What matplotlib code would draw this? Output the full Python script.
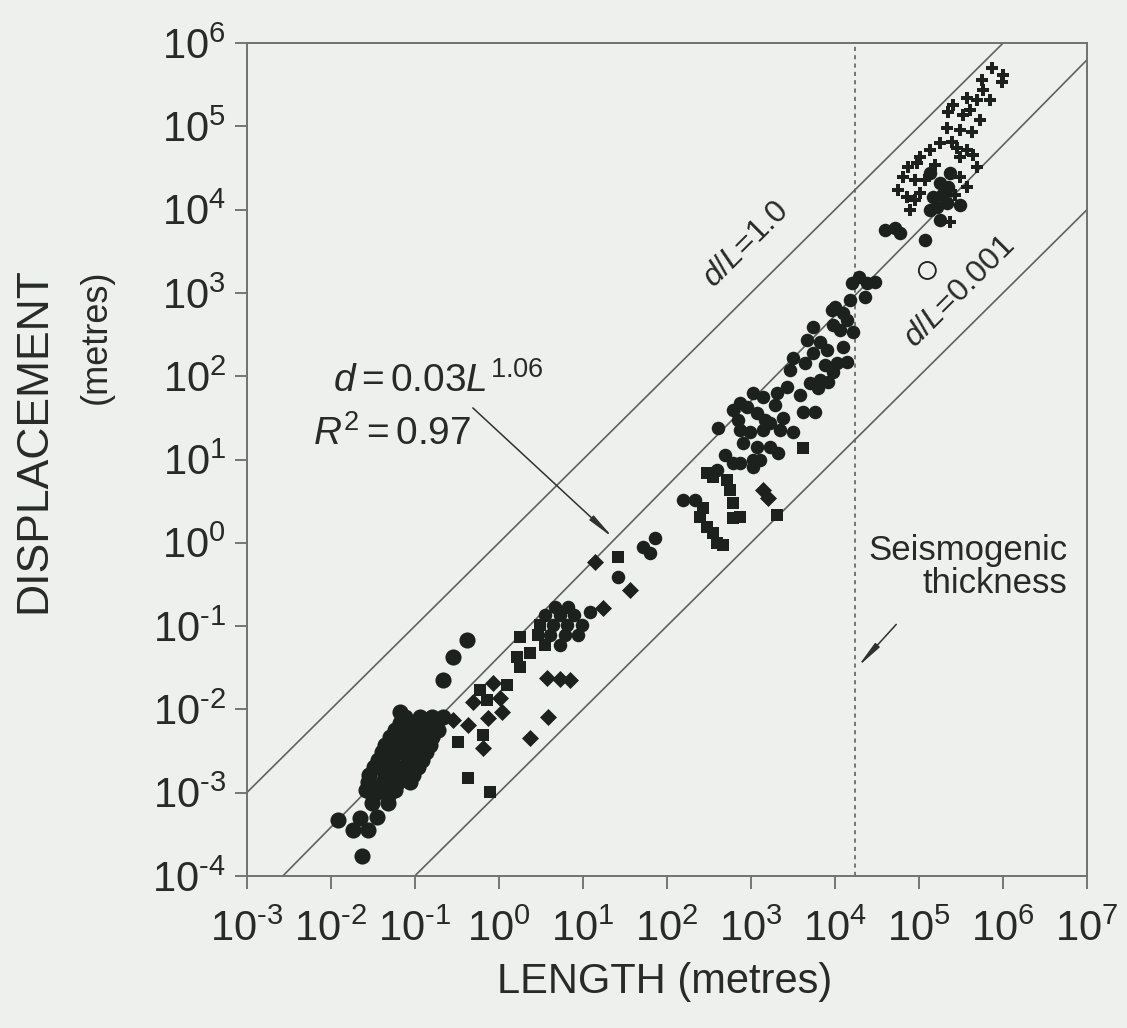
import matplotlib
matplotlib.use("Agg")
import matplotlib.pyplot as plt
import numpy as np

plt.rcParams['font.family'] = ['Liberation Sans', 'DejaVu Sans']
plt.rcParams['mathtext.fontset'] = 'custom'
plt.rcParams['mathtext.rm'] = 'Liberation Sans'
plt.rcParams['mathtext.it'] = 'Liberation Sans:italic'

# values, as log10(length), log10(displacement)
circ_big_logL = [-1.92, -1.74, -1.56, -1.63, -1.65, -1.45,
                 -1.12, -0.94, -0.80, -0.67, -1.24, -1.06, -0.88, -0.73,
                 -1.36, -1.18, -1.00, -0.82, -1.44, -1.27, -1.08, -0.92,
                 -1.54, -1.36, -1.18, -1.02, -1.58, -1.42, -1.24, -1.51, -1.32,
                 -1.18, -1.00, -0.82, -1.30, -1.12, -0.94, -0.79,
                 -1.39, -1.21, -1.04, -0.87, -1.49, -1.31, -1.13, -0.96,
                 -1.56, -1.38, -1.20, -1.06, -1.50, -1.32,
                 -1.18, -0.38, -0.55, -0.67]
circ_big_logd = [-3.33, -3.45, -3.45, -3.76, -3.30, -3.29,
                 -2.09, -2.09, -2.09, -2.09, -2.25, -2.25, -2.25, -2.25,
                 -2.43, -2.43, -2.43, -2.43, -2.61, -2.61, -2.61, -2.61,
                 -2.79, -2.79, -2.79, -2.79, -2.97, -2.97, -2.97, -3.12, -3.12,
                 -2.16, -2.16, -2.16, -2.33, -2.33, -2.33, -2.33,
                 -2.51, -2.51, -2.51, -2.51, -2.69, -2.69, -2.69, -2.69,
                 -2.87, -2.87, -2.87, -2.87, -3.04, -3.04,
                 -2.03, -1.17, -1.37, -1.65]

circ_logL = [0.67, 0.82, 0.55, 0.73, 0.90, 0.64, 0.81, 0.99, 0.61, 0.79, 0.94,
             0.73, 1.08, 1.42, 1.71, 1.86, 1.80,
             2.19, 2.33, 2.87, 3.02, 2.60, 3.11, 2.69,
             2.79, 3.02, 2.90, 3.07, 3.23, 3.32, 2.61, 2.85, 2.87, 2.99, 3.14,
             3.23, 3.38, 3.50, 3.35, 2.87, 2.79, 2.95, 3.07, 3.62, 3.76,
             3.43, 3.31, 3.14, 3.02, 3.82, 3.70, 3.80, 3.92, 3.50, 3.64, 3.74,
             3.46, 3.58, 3.29, 3.17, 3.88, 4.06,
             4.14, 4.02, 3.98, 3.67, 3.82, 3.90, 4.10, 3.96, 4.14, 3.98, 4.21,
             3.74, 4.29, 4.20, 4.48, 4.36, 4.18, 4.38, 4.00, 4.10,
             4.60, 4.71, 4.77, 5.07, 5.13, 5.25, 5.37, 5.35, 5.27, 5.17, 5.21,
             5.33, 5.13, 5.49, 5.25]
circ_logd = [-0.77, -0.77, -0.87, -0.87, -0.87, -0.99, -0.99, -0.99, -1.11, -1.11, -1.11,
             -1.23, -0.83, -0.41, -0.05, 0.06, -0.12,
             0.51, 0.51, 0.96, 0.99, 0.87, 0.99, 1.05,
             0.96, 0.91, 1.20, 1.15, 1.15, 1.08, 1.38, 1.47, 1.35, 1.33, 1.35,
             1.44, 1.50, 1.33, 1.35, 1.68, 1.59, 1.63, 1.56, 1.57, 1.57,
             1.87, 1.80, 1.75, 1.80, 1.95, 1.92, 1.86, 1.93, 2.22, 2.16, 2.28,
             2.07, 1.77, 1.65, 1.47, 2.13, 2.55,
             2.17, 2.16, 2.05, 2.43, 2.41, 2.31, 2.35, 2.79, 2.67, 2.61, 2.53,
             2.59, 3.19, 3.12, 3.13, 2.95, 2.91, 3.12, 2.83, 2.76,
             3.76, 3.78, 3.72, 3.64, 4.44, 4.32, 4.44, 4.27, 4.18, 4.15, 4.03,
             4.08, 4.00, 4.06, 3.88]

sq_logL = [-0.23, 0.10, -0.14, -0.19, -0.49, -0.37, -0.11, 0.25, 0.21, 0.25, 0.37,
           0.49, 0.46, 0.55, 1.42,
           2.48, 2.55, 2.71, 2.75, 2.79, 2.79, 2.43, 2.39, 2.48, 2.55, 2.60,
           2.67, 3.31, 2.87, 3.62]
sq_logd = [-1.77, -1.71, -1.89, -2.31, -2.39, -2.82, -2.99, -1.13, -1.37, -1.49, -1.32,
           -0.99, -1.11, -1.23, -0.17,
           0.84, 0.79, 0.75, 0.63, 0.48, 0.30, 0.42, 0.31, 0.19, 0.12, 0.00,
           -0.03, 0.33, 0.31, 1.14]

dia_logL = [-0.07, -0.31, 0.01, 0.04, -0.13, -0.55, -0.37, -0.19, 0.37, 0.58,
            0.57, 0.73, 0.85, 1.24, 1.56, 1.14, 3.14, 3.20]
dia_logd = [-1.68, -1.91, -1.86, -2.03, -2.10, -2.13, -2.19, -2.46, -2.34, -2.09,
            -1.62, -1.64, -1.65, -0.78, -0.57, -0.23, 0.63, 0.54]

plus_logL = [5.87, 6.00, 5.99, 5.75, 5.76, 5.69, 5.57, 5.40, 5.35, 5.52, 5.73,
             5.33, 5.49, 5.63, 5.39, 5.25, 5.13, 5.01, 4.98, 5.45, 5.57, 5.64,
             5.69, 5.49, 4.87, 4.81, 4.95, 4.75, 4.86, 5.01, 5.49, 5.57, 4.89, 5.37,
             5.85, 5.61, 5.19, 5.07, 5.43, 4.95]
plus_logd = [5.70, 5.62, 5.53, 5.56, 5.44, 5.32, 5.34, 5.26, 5.17, 5.14, 5.08,
             4.98, 4.96, 4.93, 4.81, 4.80, 4.72, 4.63, 4.56, 4.74, 4.72, 4.66,
             4.51, 4.63, 4.51, 4.39, 4.36, 4.24, 4.15, 4.20, 4.39, 4.27, 4.00, 3.85,
             5.32, 5.20, 4.54, 4.36, 4.18, 4.12]

open_logL = [5.10]
open_logd = [3.27]

# regression line d = 0.03 L^1.06 as it is drawn: end points
fit_L = [10 ** -2.57, 1e7]
fit_d = [1e-4, 10 ** 5.8]
seismo_L = 1.75e4

ink = '#1c211d'
txt = '#262b27'
line_c = '#5e625f'
bg = '#eef0ee'

fig = plt.figure(figsize=(11.27, 10.28), dpi=100, facecolor=bg)
ax = fig.add_axes([0.219, 0.148, 0.7455, 0.810], facecolor=bg)
ax.set_xscale('log')
ax.set_yscale('log')
ax.set_xlim(1e-3, 1e7)
ax.set_ylim(1e-4, 1e6)

L = np.logspace(-3, 7, 200)
ax.plot(L, L, color=line_c, lw=1.2, zorder=1)
ax.plot(L, 0.001 * L, color=line_c, lw=1.2, zorder=1)
ax.plot(fit_L, fit_d, color=line_c, lw=1.2, zorder=1)
ax.axvline(seismo_L, color=line_c, lw=1.2, ls=(0, (2.5, 2.5)), zorder=1)

def p(a):
    return 10 ** np.array(a)

ax.scatter(p(circ_big_logL), p(circ_big_logd), s=135, marker='o', color=ink, lw=0, zorder=3)
ax.scatter(p(circ_logL), p(circ_logd), s=95, marker='o', color=ink, lw=0, zorder=3)
ax.scatter(p(sq_logL), p(sq_logd), s=80, marker='s', color=ink, lw=0, zorder=3)
ax.scatter(p(dia_logL), p(dia_logd), s=75, marker='D', color=ink, lw=0, zorder=3)
ax.scatter(p(plus_logL), p(plus_logd), s=85, marker='P', color=ink, lw=0, zorder=3)
ax.scatter(p(open_logL), p(open_logd), s=150, marker='o', facecolor='none',
           edgecolor=ink, lw=1.3, zorder=3)

def exp_label(k):
    if k < 0:
        return r'$\mathregular{10^{\text{-}%d}}$' % (-k)
    return r'$\mathregular{10^{%d}}$' % k

ax.set_xticks([10.0 ** k for k in range(-3, 8)])
ax.set_xticklabels([exp_label(k) for k in range(-3, 8)])
ax.set_yticks([10.0 ** k for k in range(-4, 7)])
ax.set_yticklabels([exp_label(k) for k in range(-4, 7)])
ax.minorticks_off()
ax.tick_params(axis='both', direction='out', length=9, width=1.2, color=line_c,
               labelsize=30, labelcolor=txt)
ax.tick_params(axis='x', pad=15)
ax.tick_params(axis='y', pad=6)
for sp in ax.spines.values():
    sp.set_color('#6f7370')
    sp.set_linewidth(1.4)

fig.text(0.59, 0.045, 'LENGTH (metres)', ha='center', va='center', fontsize=30, color=txt)
fig.text(0.030, 0.572, 'DISPLACEMENT', ha='center', va='center', rotation=90,
         fontsize=32, color=txt)
fig.text(0.085, 0.672, '(metres)', ha='center', va='center', rotation=90,
         fontsize=26, color=txt)

ax.text(10 ** 2.95, 10 ** 3.58, r'$d/L$=1.0', rotation=45, ha='center',
        va='center', fontsize=23, color=txt)
ax.text(10 ** 5.49, 10 ** 3.01, r'$d/L$=0.001', rotation=45, ha='center',
        va='center', fontsize=23, color=txt)
ax.text(10 ** -1.98, 10 ** 1.81, r'$d\mathregular{=0.03}L^{\mathregular{1.06}}$',
        ha='left', va='baseline', fontsize=28, color=txt)
ax.text(10 ** -2.21, 10 ** 1.17, r'$R^{\mathregular{2}}\mathregular{=0.97}$',
        ha='left', va='baseline', fontsize=28, color=txt)

arrow = dict(arrowstyle='-|>,head_length=1.6,head_width=0.18', color='#2e322f',
             lw=1.1, shrinkA=0, shrinkB=0)
ax.annotate('', xy=(10 ** 1.36, 10 ** 0.06), xytext=(10 ** -0.31, 10 ** 1.62),
            arrowprops=arrow, annotation_clip=False)
ax.annotate('', xy=(10 ** 4.27, 10 ** -1.49), xytext=(10 ** 4.73, 10 ** -0.98),
            arrowprops=arrow, annotation_clip=False)
ax.text(10 ** 6.77, 10 ** -0.21, 'Seismogenic', ha='right', va='baseline',
        fontsize=25, color=txt)
ax.text(10 ** 6.77, 10 ** -0.60, 'thickness', ha='right', va='baseline',
        fontsize=25, color=txt)

fig.savefig('out.png', dpi=100, facecolor=bg)
